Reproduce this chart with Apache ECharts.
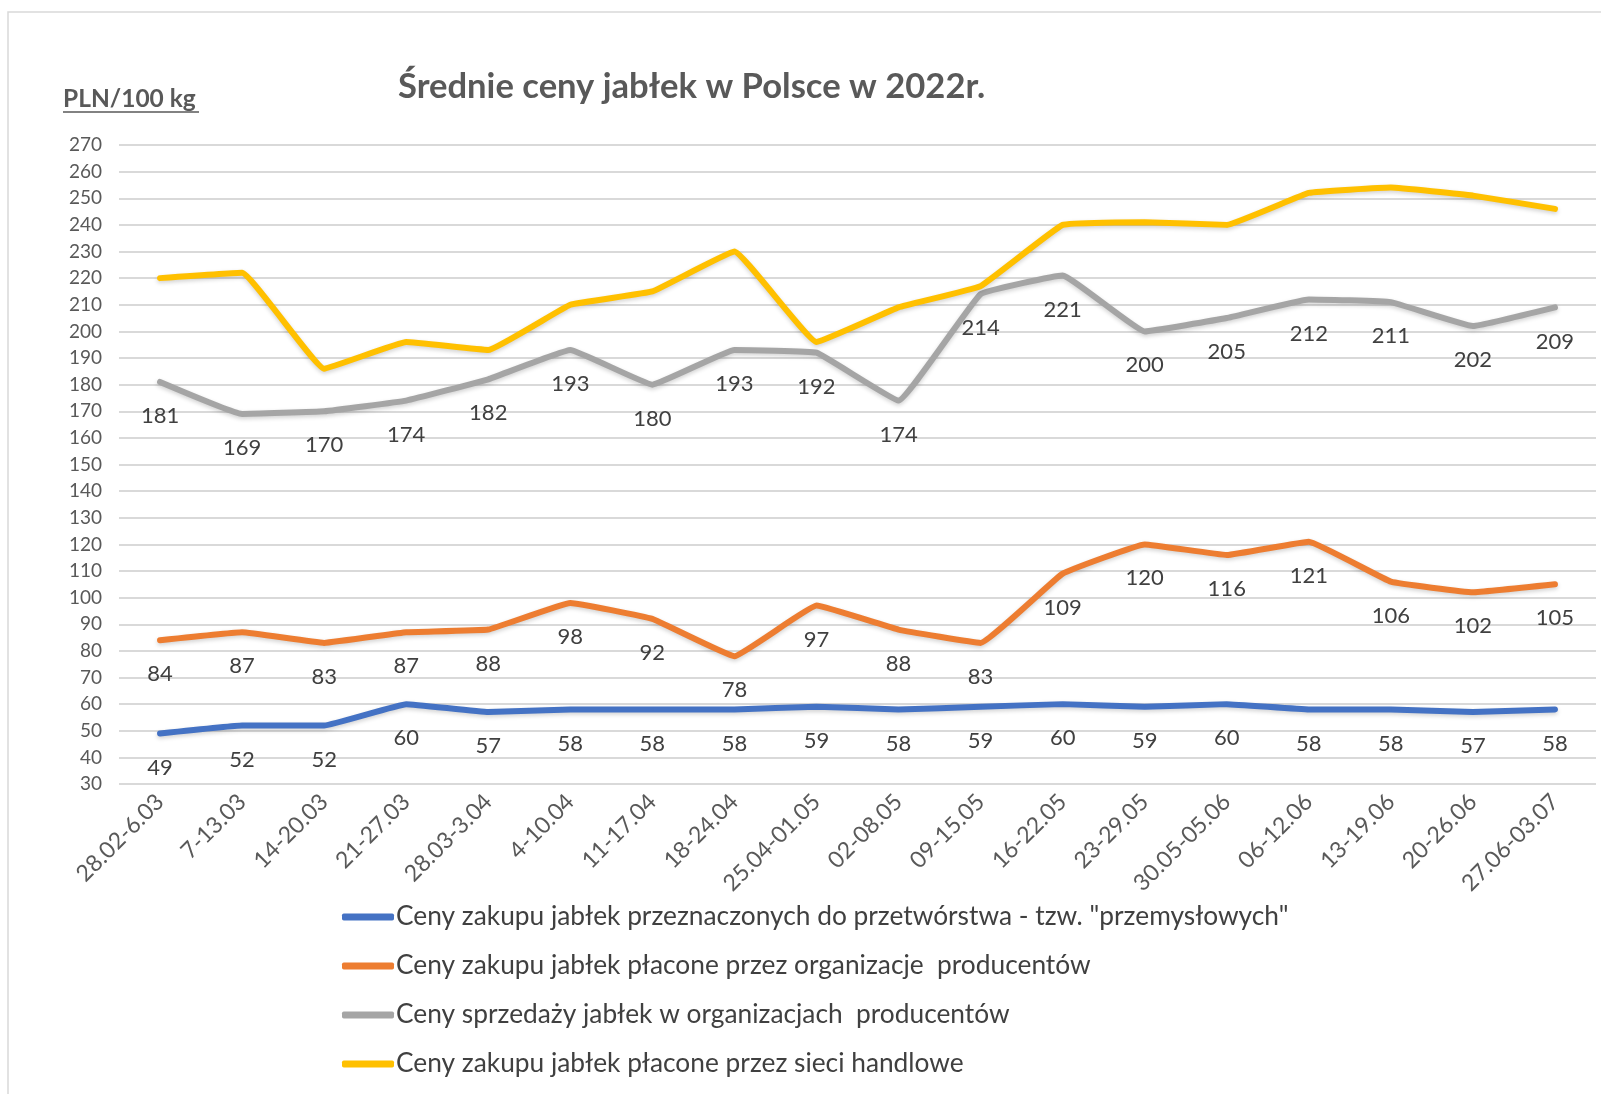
<!DOCTYPE html>
<html>
<head>
<meta charset="utf-8">
<script src="https://cdn.jsdelivr.net/npm/echarts@6/dist/echarts.min.js"></script>
<style>
html,body{margin:0;padding:0;background:#fff;}
#chart{width:1601px;height:1094px;}
</style>
</head>
<body>
<div id="chart"></div>
<script>
var categories = ["28.02-6.03","7-13.03","14-20.03","21-27.03","28.03-3.04","4-10.04","11-17.04","18-24.04","25.04-01.05","02-08.05","09-15.05","16-22.05","23-29.05","30.05-05.06","06-12.06","13-19.06","20-26.06","27.06-03.07"];
var seriesNames = [
  'Ceny zakupu jabłek przeznaczonych do przetwórstwa - tzw. "przemysłowych"',
  'Ceny zakupu jabłek płacone przez organizacje  producentów',
  'Ceny sprzedaży jabłek w organizacjach  producentów',
  'Ceny zakupu jabłek płacone przez sieci handlowe'
];
var przemyslowe = [49,52,52,60,57,58,58,58,59,58,59,60,59,60,58,58,57,58];
var organizacjeZakup = [84,87,83,87,88,98,92,78,97,88,83,109,120,116,121,106,102,105];
var organizacjeSprzedaz = [181,169,170,174,182,193,180,193,192,174,214,221,200,205,212,211,202,209];
var sieciHandlowe = [220,222,186,196,193,210,215,230,196,209,217,240,241,240,252,254,251,246];
var colors = ['#4472C4','#ED7D31','#A5A5A5','#FFC000'];
var yMin = 30, yMax = 270, yInterval = 10;
var chartTitle = 'Średnie ceny jabłek w Polsce w 2022r.';
var unitLabel = 'PLN/100 kg';

var chart = echarts.init(document.getElementById('chart'), null, {renderer:'canvas'});

function mkSeries(name, data, color, showLabel){
  return {
    name: name,
    type: 'line',
    data: data,
    smooth: 0.08,
    symbol: 'circle',
    symbolSize: 2,
    itemStyle: {color: color},
    lineStyle: {color: color, width: 6, cap: 'round', join: 'round',
      shadowColor: 'rgba(0,0,0,0.18)', shadowBlur: 4, shadowOffsetY: 2},
    label: {show: showLabel, position: 'bottom', distance: 22,
      fontFamily: 'Lato', fontSize: 22, color: '#404040'},
    emphasis: {disabled: true},
    z: 3
  };
}

var option = {
  animation: false,
  backgroundColor: '#ffffff',
  textStyle: {fontFamily: 'Lato'},
  title: {
    text: chartTitle,
    left: 393, top: 64,
    textStyle: {fontFamily: 'Lato', fontWeight: 'bold', fontSize: 34.6, color: '#595959'}
  },
  graphic: [
    {type: 'rect', shape: {x: 8, y: 12, width: 1620, height: 1120},
      style: {fill: 'none', stroke: '#d9d9d9', lineWidth: 1.5}, silent: true, z: -10},
    {type: 'text', left: 63, top: 87,
      style: {text: unitLabel, fontFamily: 'Lato', fontWeight: 'bold', fontSize: 24.5, fill: '#595959'}},
    {type: 'line', shape: {x1: 63, y1: 112, x2: 199, y2: 112},
      style: {stroke: '#595959', lineWidth: 1.5}}
  ],
  legend: {
    orient: 'vertical',
    left: 337, top: 899,
    itemWidth: 52, itemHeight: 7,
    itemGap: 23,
    icon: 'roundRect',
    textStyle: {fontFamily: 'Lato', fontSize: 26.3, color: '#404040', padding: [0,0,0,-3]},
    data: seriesNames
  },
  grid: {left: 119, right: 5, top: 145, bottom: 310, containLabel: false},
  xAxis: {
    type: 'category',
    data: categories,
    boundaryGap: true,
    axisLine: {show: false},
    axisTick: {show: false},
    axisLabel: {rotate: 45, interval: 0, margin: 14, fontFamily: 'Lato', fontSize: 23, color: '#595959'}
  },
  yAxis: {
    type: 'value',
    min: yMin, max: yMax, interval: yInterval,
    axisLine: {show: false},
    axisTick: {show: false},
    axisLabel: {fontFamily: 'Lato', fontSize: 19, color: '#595959', margin: 17},
    splitLine: {lineStyle: {color: '#d9d9d9', width: 2}}
  },
  series: [
    mkSeries(seriesNames[0], przemyslowe, colors[0], true),
    mkSeries(seriesNames[1], organizacjeZakup, colors[1], true),
    mkSeries(seriesNames[2], organizacjeSprzedaz, colors[2], true),
    mkSeries(seriesNames[3], sieciHandlowe, colors[3], false)
  ]
};
chart.setOption(option);
</script>
</body>
</html>
